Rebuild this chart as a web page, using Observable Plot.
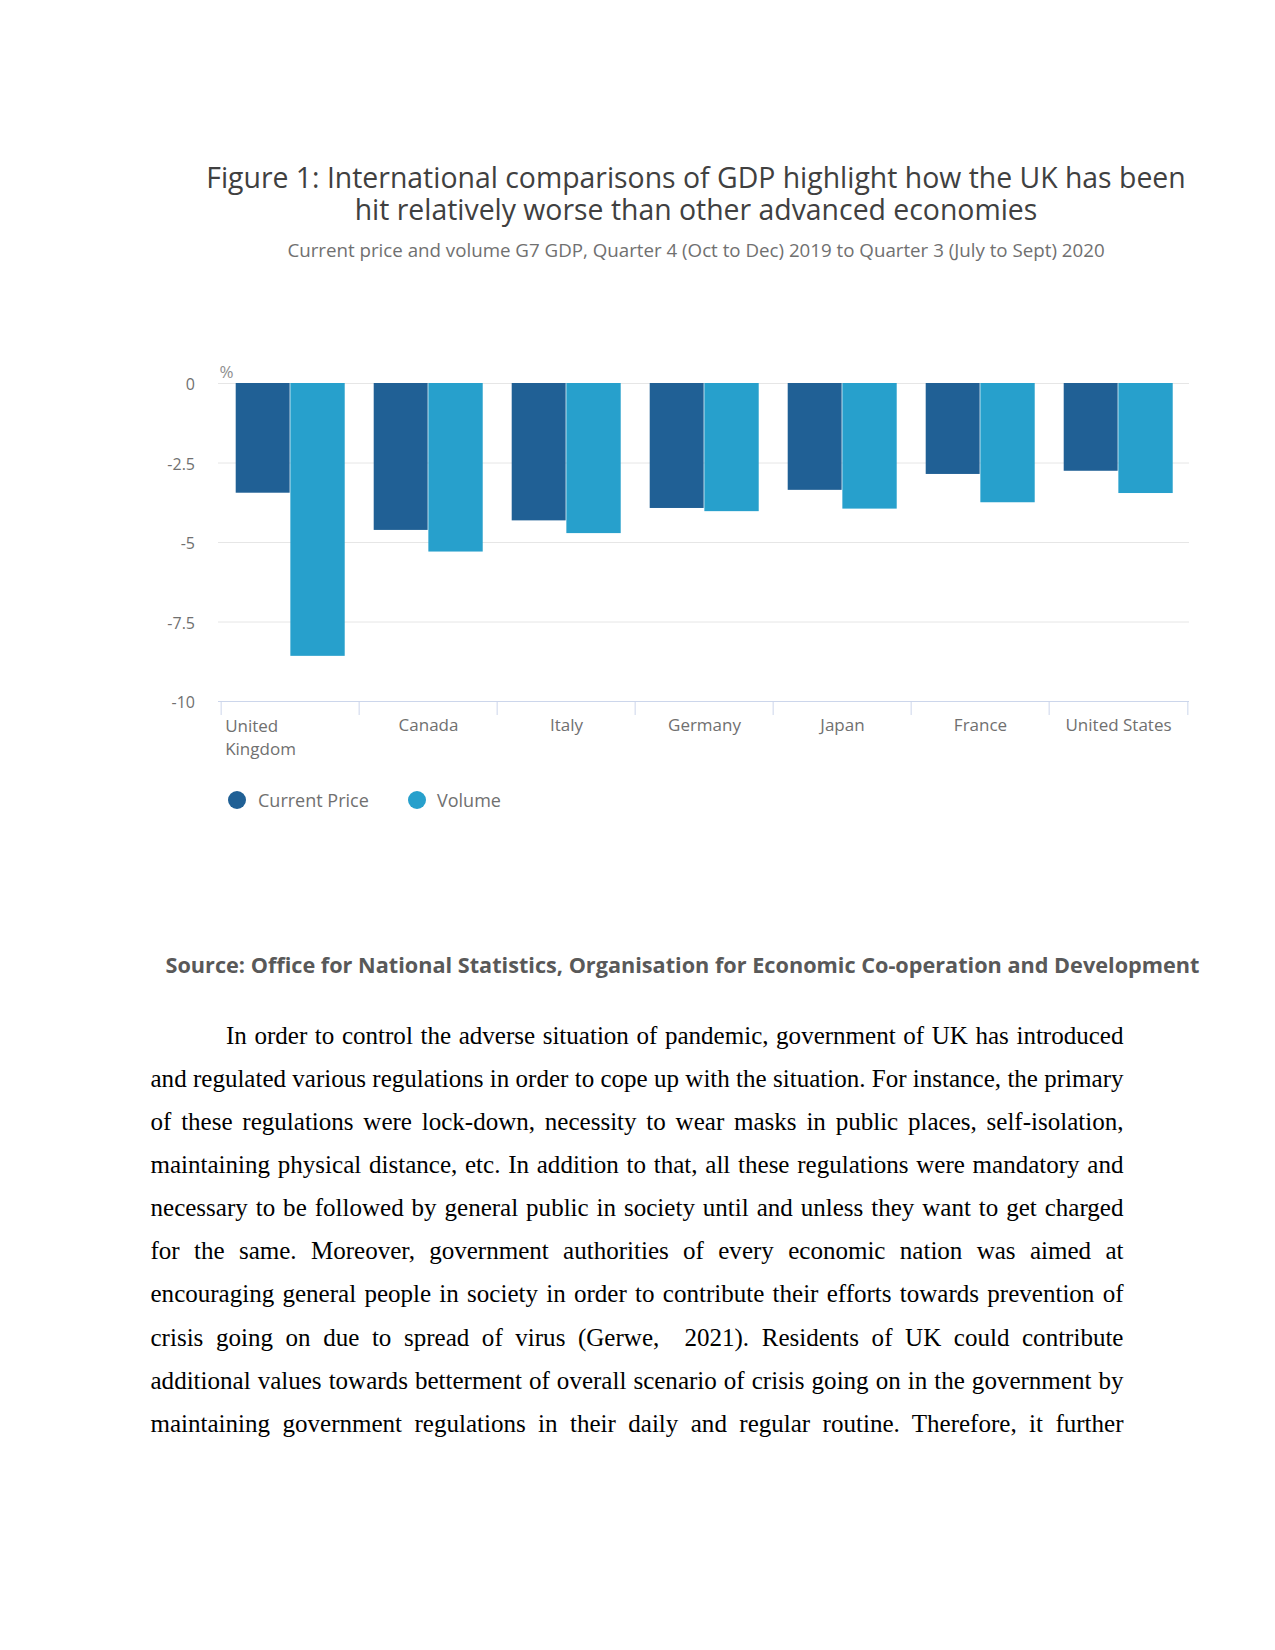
<!DOCTYPE html>
<html>
<head>
<meta charset="utf-8">
<script src="https://cdn.jsdelivr.net/npm/d3@7"></script>
<script src="https://cdn.jsdelivr.net/npm/@observablehq/plot@0.6"></script>
<style>
  html, body { margin: 0; padding: 0; background: #fff; }
  body { width: 1275px; height: 1650px; position: relative; overflow: hidden; }
  .abs { position: absolute; white-space: pre; line-height: 1.2; }
  .sans { font-family: "Open Sans", sans-serif; }
  .serif { font-family: "Liberation Serif", "Times New Roman", serif; font-size: 24px; color: #000; line-height: 43px; height: 43px; }
  .dot { position: absolute; width: 18px; height: 18px; border-radius: 50%; }
</style>
</head>
<body>
<div id="title" class="abs sans" style="font-size:27px;color:#404040;text-align:center;line-height:32.5px"></div>
<div id="subtitle" class="abs sans" style="font-size:17px;color:#707070">Current price and volume G7 GDP, Quarter 4 (Oct to Dec) 2019 to Quarter 3 (July to Sept) 2020</div>
<div id="chart" style="position:absolute;left:0;top:340px;"></div>
<div id="legend"></div>
<div id="source" class="abs sans" style="font-size:20px;font-weight:700;color:#595959">Source: Office for National Statistics, Organisation for Economic Co-operation and Development</div>
<div id="body"></div>
<script>
// ---- data ----
const countries = ["United Kingdom", "Canada", "Italy", "Germany", "Japan", "France", "United States"];
const countryLabels = ["United\nKingdom", "Canada", "Italy", "Germany", "Japan", "France", "United States"];
const currentPrice = [-3.45, -4.62, -4.32, -3.93, -3.36, -2.86, -2.76];
const volume = [-8.58, -5.30, -4.72, -4.03, -3.95, -3.75, -3.46];
const yTicks = [0, -2.5, -5, -7.5, -10];
const seriesNames = ["Current Price", "Volume"];
const seriesColors = ["#206095", "#27a0cc"];

const titleLines = [
  "Figure 1: International comparisons of GDP highlight how the UK has been",
  "hit relatively worse than other advanced economies"
];

const bodyLines = [
  "In order to control the adverse situation of pandemic, government of UK has introduced",
  "and regulated various regulations in order to cope up with the situation. For instance, the primary",
  "of these regulations were lock-down, necessity to wear masks in public places, self-isolation,",
  "maintaining physical distance, etc. In addition to that, all these regulations were mandatory and",
  "necessary to be followed by general public in society until and unless they want to get charged",
  "for the same. Moreover, government authorities of every economic nation was aimed at",
  "encouraging general people in society in order to contribute their efforts towards prevention of",
  "crisis going on due to spread of virus (Gerwe,  2021). Residents of UK could contribute",
  "additional values towards betterment of overall scenario of crisis going on in the government by",
  "maintaining government regulations in their daily and regular routine. Therefore, it further"
];

// ---- text fitting helpers ----
function fitCenter(id, x0, x1, cy) {
  const el = document.getElementById(id);
  const fs = parseFloat(getComputedStyle(el).fontSize);
  const w = el.getBoundingClientRect().width;
  const nfs = fs * (x1 - x0) / w;
  el.style.fontSize = nfs + "px";
  const r = el.getBoundingClientRect();
  el.style.left = (x0 + x1) / 2 - r.width / 2 + "px";
  el.style.top = cy - r.height / 2 + "px";
}

// title: one block of two centred lines, font size fitted to the first line
(function () {
  const el = document.getElementById("title");
  const probe = document.createElement("span");
  probe.className = "abs sans";
  probe.style.fontSize = "27px";
  probe.textContent = titleLines[0];
  document.body.appendChild(probe);
  const w = probe.getBoundingClientRect().width;
  document.body.removeChild(probe);
  el.style.fontSize = 27 * 980 / w + "px";
  el.textContent = titleLines.join("\n");
  el.style.width = "1100px";
  el.style.left = 696 - 550 + "px";
  el.style.top = (177 + 209.5) / 2 - 32.5 + "px";
})();
fitCenter("subtitle", 287, 1105, 250.5);
fitCenter("source", 165, 1200, 965);

// ---- chart ----
const W = 1275, H = 440, mL = 218, mR = 86, mT = 43, mB = 79;
const step = (W - mL - mR) / countries.length;
const rows = countries.flatMap((c, i) => [
  {country: c, series: seriesNames[0], value: currentPrice[i]},
  {country: c, series: seriesNames[1], value: volume[i]}
]);

const plot = Plot.plot({
  width: W, height: H,
  marginLeft: mL, marginRight: mR, marginTop: mT, marginBottom: mB,
  style: {fontFamily: "'Open Sans', sans-serif", fontSize: "16px", color: "#707070", background: "transparent", overflow: "visible"},
  x: {domain: countries, padding: 0, label: null},
  y: {domain: [-10, 0], label: null},
  color: {domain: seriesNames, range: seriesColors},
  marks: [
    Plot.ruleY(yTicks.slice(0, -1), {stroke: "#e6e6e6", strokeWidth: 1}),
    Plot.barY(rows.filter(d => d.series === seriesNames[0]), {x: "country", y: "value", fill: "series", insetLeft: step * 0.106, insetRight: step * 0.5}),
    Plot.barY(rows.filter(d => d.series === seriesNames[1]), {x: "country", y: "value", fill: "series", insetLeft: step * 0.5, insetRight: step * 0.103}),
    Plot.ruleY([-10], {stroke: "#ccd6eb"}),
    Plot.axisX({tickSize: 14, tickFormat: () => "", dx: -step / 2, stroke: "#ccd6eb"}),
    Plot.axisX({ticks: countries.slice(-1), tickSize: 14, tickFormat: () => "", dx: step / 2, stroke: "#ccd6eb"}),
    Plot.axisY({ticks: yTicks, tickSize: 0, tickPadding: 23.5, tickFormat: d => String(d), fontSize: 16, dy: 1.5}),
    Plot.text(countries.slice(1), {x: d => d, text: (d, i) => countryLabels[i + 1], frameAnchor: "bottom", dy: 29.5, fontSize: 17, fill: "#707070"}),
    Plot.text(countries.slice(0, 1), {x: d => d, text: () => countryLabels[0], frameAnchor: "bottom", textAnchor: "start", dx: -step / 2 + 4, dy: 53.5, lineHeight: 1.353, fontSize: 17, fill: "#707070"}),
    Plot.text(["%"], {frameAnchor: "top-left", textAnchor: "start", dx: 1, dy: -18, fontSize: 17, fill: "#8f8f8f"})
  ]
});
document.getElementById("chart").appendChild(plot);

// ---- legend ----
const legend = document.getElementById("legend");
const legendX = [[237, 258], [417, 437]];
seriesNames.forEach((name, i) => {
  const dot = document.createElement("div");
  dot.className = "dot";
  dot.style.background = seriesColors[i];
  dot.style.left = legendX[i][0] - 9 + "px";
  dot.style.top = 800 - 9 + "px";
  legend.appendChild(dot);
  const t = document.createElement("div");
  t.className = "abs sans";
  t.style.fontSize = "18px";
  t.style.color = "#707070";
  t.textContent = name;
  legend.appendChild(t);
  const r = t.getBoundingClientRect();
  t.style.left = legendX[i][1] + "px";
  t.style.top = 801 - r.height / 2 + "px";
});

// ---- body text (justified lines) ----
const body = document.getElementById("body");
const bx0 = 150.5, bx1 = 1123.5, indent = 75.5, by0 = 1036, bstep = 43.15;
const probe = document.createElement("div");
probe.className = "abs serif";
probe.textContent = bodyLines[1];
body.appendChild(probe);
const bodyFs = 24 * (bx1 - bx0) / probe.getBoundingClientRect().width;
body.removeChild(probe);
bodyLines.forEach((line, i) => {
  const d = document.createElement("div");
  d.className = "abs serif";
  d.style.fontSize = bodyFs + "px";
  d.textContent = line;
  body.appendChild(d);
  const left = i === 0 ? bx0 + indent : bx0;
  const target = bx1 - left;
  const w = d.getBoundingClientRect().width;
  const spaces = (line.match(/ /g) || []).length;
  d.style.wordSpacing = (target - w) / spaces + "px";
  d.style.left = left + "px";
  d.style.top = by0 + i * bstep - 21.5 - 1 + "px";
});
</script>
</body>
</html>
